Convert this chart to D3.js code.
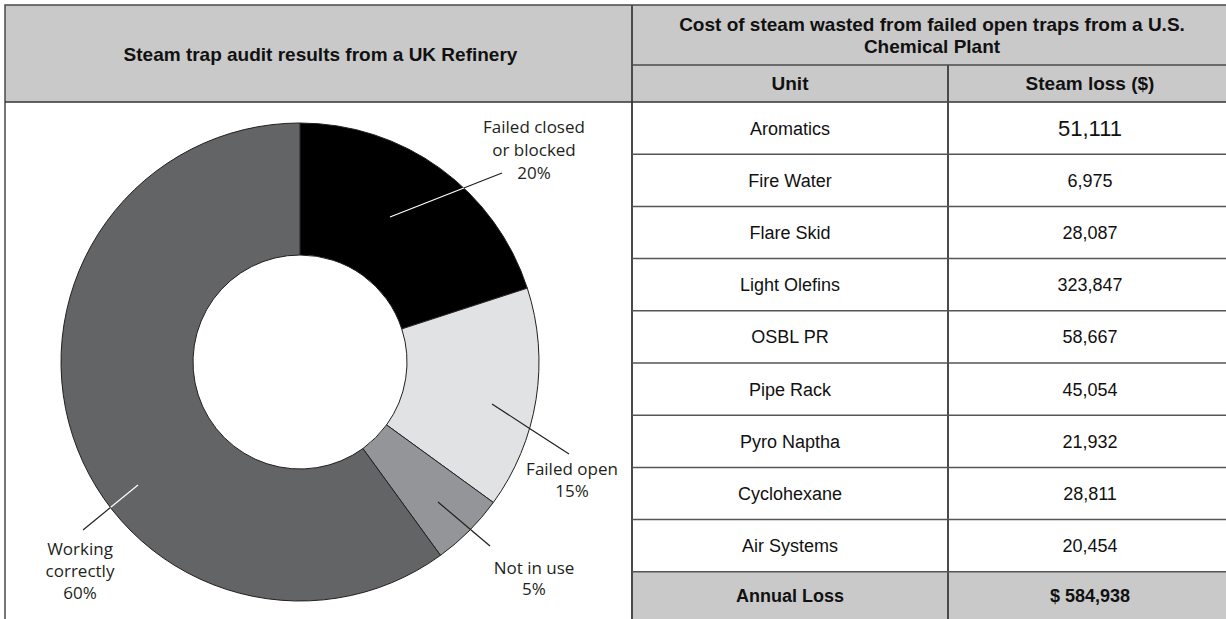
<!DOCTYPE html>
<html><head><meta charset="utf-8">
<script src="https://cdn.jsdelivr.net/npm/d3@7"></script>
<style>
html,body{margin:0;padding:0;background:#fff;}
svg{display:block;}
</style></head>
<body>
<script>
// ---- data ----
const pieTitle = "Steam trap audit results from a UK Refinery";
const pieCategories = ["Failed closed or blocked", "Failed open", "Not in use", "Working correctly"];
const pieLabelLines = [["Failed closed", "or blocked", "20%"], ["Failed open", "15%"], ["Not in use", "5%"], ["Working", "correctly", "60%"]];
const pieValues = [20, 15, 5, 60];
const pieColors = ["#000000", "#e1e2e4", "#939598", "#636466"];

const tableTitle = ["Cost of steam wasted from failed open traps from a U.S.", "Chemical Plant"];
const tableHeaders = ["Unit", "Steam loss ($)"];
const units = ["Aromatics", "Fire Water", "Flare Skid", "Light Olefins", "OSBL PR", "Pipe Rack", "Pyro Naptha", "Cyclohexane", "Air Systems"];
const steamLoss = [51111, 6975, 28087, 323847, 58667, 45054, 21932, 28811, 20454];
const totalLabel = "Annual Loss";
const totalLoss = 584938;

// ---- layout ----
const W = 1226, H = 619;
const L = 5, T = 5, midX = 632, R = 1232, B = 640;
const headBottom = 102, tHead1 = 65, colX = 948;
const rowH = 52.2;
const grayHead = "#c9c9c9";
const lineCol = "#4a4a4a";
const tfont = "Liberation Sans, Arial, sans-serif";
const headSize = 19, bodySize = 18, bigSize = 22;

const svg = d3.select("body").append("svg").attr("width", W).attr("height", H);

// ---- left panel ----
svg.append("rect").attr("x", L).attr("y", T).attr("width", midX - L).attr("height", headBottom - T).attr("fill", grayHead);
svg.append("text").attr("x", (L + midX) / 2 + 2).attr("y", 61)
  .attr("text-anchor", "middle").attr("font-family", tfont)
  .attr("font-weight", "bold").attr("font-size", headSize).attr("fill", "#111").text(pieTitle);

const cx = 300, cy = 362, rOuter = 239, rInner = 107;
const pie = d3.pie().sort(null).value(d => d)(pieValues);
const arc = d3.arc().innerRadius(rInner).outerRadius(rOuter);
const g = svg.append("g").attr("transform", `translate(${cx},${cy})`);
g.selectAll("path.slice").data(pie).join("path").attr("class", "slice")
  .attr("d", arc).attr("fill", (d, i) => pieColors[i])
  .attr("stroke", "#231f20").attr("stroke-width", 1);

// label layout: leader [x1,y1,x2,y2] relative to pie centre, label anchor, line height, inner leader colour
const labelLayout = [
  {lead: [90, -145, 202, -189], tx: 234, ty: -229, lh: 23, inner: "#ffffff"},
  {lead: [192, 42, 269, 92], tx: 272, ty: 113, lh: 22, inner: "#231f20"},
  {lead: [138, 140, 190, 184], tx: 234, ty: 212, lh: 21, inner: "#231f20"},
  {lead: [-162, 123, -217, 168], tx: -220, ty: 193, lh: 22, inner: "#ffffff"}
];

function circleHit(x1, y1, x2, y2, r) {
  const dx = x2 - x1, dy = y2 - y1;
  const a = dx * dx + dy * dy, b = 2 * (x1 * dx + y1 * dy), c = x1 * x1 + y1 * y1 - r * r;
  const disc = b * b - 4 * a * c;
  if (disc < 0) return null;
  const t = (-b + Math.sqrt(disc)) / (2 * a);
  return (t >= 0 && t <= 1) ? t : null;
}

labelLayout.forEach((lay, i) => {
  const [x1, y1, x2, y2] = lay.lead;
  const t = circleHit(x1, y1, x2, y2, rOuter);
  const mx = t === null ? x2 : x1 + (x2 - x1) * t;
  const my = t === null ? y2 : y1 + (y2 - y1) * t;
  g.append("line").attr("x1", x1).attr("y1", y1).attr("x2", mx).attr("y2", my)
    .attr("stroke", lay.inner).attr("stroke-width", 1.2);
  if (t !== null) {
    g.append("line").attr("x1", mx).attr("y1", my).attr("x2", x2).attr("y2", y2)
      .attr("stroke", "#231f20").attr("stroke-width", 1.2);
  }
  const txt = g.append("text").attr("text-anchor", "middle")
    .attr("font-family", "Open Sans, sans-serif").attr("font-size", 17).attr("fill", "#231f20");
  pieLabelLines[i].forEach((s, k) => {
    txt.append("tspan").attr("x", lay.tx).attr("y", lay.ty + k * lay.lh).text(s);
  });
});

// ---- right panel (table) ----
const rows = units.map((u, i) => ({unit: u, val: steamLoss[i]}));
const y = d3.scaleBand().domain(d3.range(rows.length + 1)).range([headBottom, headBottom + rowH * (rows.length + 1)]).paddingInner(0).paddingOuter(0);
const fmt = d3.format(",");

svg.append("rect").attr("x", midX).attr("y", T).attr("width", R - midX).attr("height", headBottom - T).attr("fill", grayHead);
svg.append("rect").attr("x", midX).attr("y", y(rows.length)).attr("width", R - midX).attr("height", B - y(rows.length)).attr("fill", grayHead);

const titleCx = (midX + R) / 2;
tableTitle.forEach((s, k) => {
  svg.append("text").attr("x", titleCx).attr("y", 31 + k * 22).attr("text-anchor", "middle")
    .attr("font-family", tfont).attr("font-weight", "bold").attr("font-size", headSize).attr("fill", "#111").text(s);
});
const c1 = (midX + colX) / 2, c2 = (colX + R) / 2;
svg.append("text").attr("x", c1).attr("y", 90).attr("text-anchor", "middle").attr("font-family", tfont)
  .attr("font-weight", "bold").attr("font-size", headSize).attr("fill", "#111").text(tableHeaders[0]);
svg.append("text").attr("x", c2).attr("y", 90).attr("text-anchor", "middle").attr("font-family", tfont)
  .attr("font-weight", "bold").attr("font-size", headSize).attr("fill", "#111").text(tableHeaders[1]);

rows.forEach((r, i) => {
  const yc = y(i) + rowH / 2;
  svg.append("text").attr("x", c1).attr("y", yc + 6.5).attr("text-anchor", "middle").attr("font-family", tfont)
    .attr("font-size", bodySize).attr("fill", "#111").text(r.unit);
  svg.append("text").attr("x", c2).attr("y", yc + (i === 0 ? 8 : 6.5)).attr("text-anchor", "middle").attr("font-family", tfont)
    .attr("font-size", i === 0 ? bigSize : bodySize).attr("fill", "#111").text(fmt(r.val));
});
const ycT = y(rows.length) + rowH / 2 - 2;
svg.append("text").attr("x", c1).attr("y", ycT + 6.5).attr("text-anchor", "middle").attr("font-family", tfont)
  .attr("font-weight", "bold").attr("font-size", bodySize).attr("fill", "#111").text(totalLabel);
svg.append("text").attr("x", c2).attr("y", ycT + 6.5).attr("text-anchor", "middle").attr("font-family", tfont)
  .attr("font-weight", "bold").attr("font-size", bodySize).attr("fill", "#111").text("$ " + fmt(totalLoss));

// ---- grid lines ----
const lines = svg.append("g").attr("stroke", lineCol).attr("stroke-width", 1.5).attr("fill", "none");
lines.append("rect").attr("x", L).attr("y", T).attr("width", R - L).attr("height", B - T);
lines.append("line").attr("x1", midX).attr("x2", midX).attr("y1", T).attr("y2", B).attr("stroke-width", 2);
lines.append("line").attr("x1", L).attr("x2", R).attr("y1", headBottom).attr("y2", headBottom).attr("stroke", "#333");
lines.append("line").attr("x1", midX).attr("x2", R).attr("y1", tHead1).attr("y2", tHead1);
lines.append("line").attr("x1", colX).attr("x2", colX).attr("y1", tHead1).attr("y2", B).attr("stroke-width", 2);
d3.range(1, rows.length + 1).forEach(i => {
  lines.append("line").attr("x1", midX).attr("x2", R).attr("y1", y(i)).attr("y2", y(i)).attr("stroke", "#555");
});
</script>
</body></html>
